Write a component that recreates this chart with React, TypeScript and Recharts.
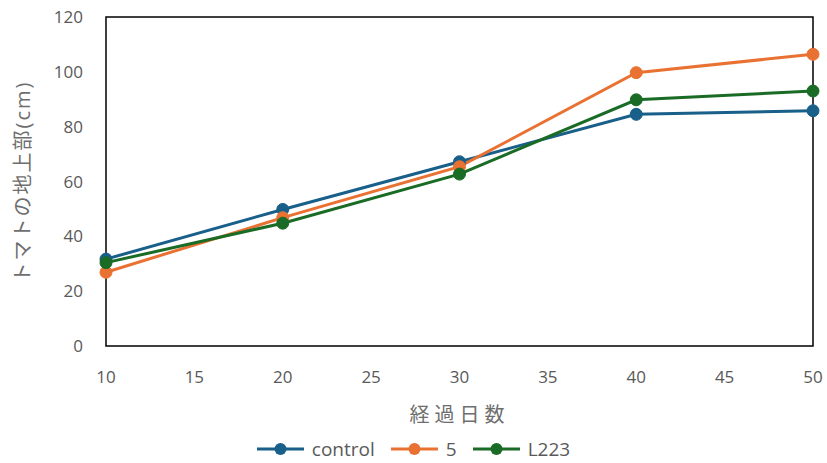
import {
  LineChart,
  Line,
  XAxis,
  YAxis,
  ReferenceArea,
  Legend,
} from 'recharts'

const days = [10, 20, 30, 40, 50]
const controlHeight = [31.7, 49.8, 67.2, 84.5, 85.8]
const treatment5Height = [26.9, 46.8, 65.4, 99.7, 106.4]
const l223Height = [30.4, 44.8, 62.7, 89.8, 93.0]

const xTicks = [10, 15, 20, 25, 30, 35, 40, 45, 50]
const yTicks = [0, 20, 40, 60, 80, 100, 120]

const seriesInfo = [
  { key: 'control', name: 'control', color: '#185F8A' },
  { key: 's5', name: '5', color: '#E97132' },
  { key: 'l223', name: 'L223', color: '#1A6B25' },
]

const data = days.map((d, i) => ({
  day: d,
  control: controlHeight[i],
  s5: treatment5Height[i],
  l223: l223Height[i],
}))

const FONT = "'Open Sans', 'Noto Sans CJK JP', sans-serif"
const GRAY = '#595959'
const LABEL_GRAY = '#6e6e6e'

function LegendContent() {
  return (
    <div
      style={{
        display: 'flex',
        justifyContent: 'center',
        height: 22,
        lineHeight: '22px',
        alignItems: 'center',
        gap: 16,
        fontFamily: FONT,
        fontSize: 19,
        color: GRAY,
      }}
    >
      {seriesInfo.map((s) => (
        <div key={s.key} style={{ display: 'flex', alignItems: 'center' }}>
          <svg width={47} height={14} style={{ marginRight: 8 }}>
            <line x1={0} y1={7} x2={47} y2={7} stroke={s.color} strokeWidth={3} />
            <circle cx={23.5} cy={7} r={6} fill={s.color} />
          </svg>
          <span>{s.name}</span>
        </div>
      ))}
    </div>
  )
}

export default function App() {
  return (
    <div style={{ position: 'absolute', left: 0, top: 0, width: 827, height: 463, background: '#fff' }}>
      <LineChart width={827} height={463} data={data} margin={{ top: 17, right: 14, left: 0, bottom: 0 }}>
        <XAxis
          dataKey="day"
          type="number"
          domain={[10, 50]}
          ticks={xTicks}
          tick={{ fontSize: 17, fill: GRAY, fontFamily: FONT }}
          tickLine={false}
          axisLine={false}
          tickSize={0}
          tickMargin={25}
          height={95}
          label={{
            value: '経過日数',
            position: 'insideTop',
            offset: 62,
            fontSize: 20,
            fill: LABEL_GRAY,
            fontFamily: FONT,
            style: { letterSpacing: 5 },
          }}
        />
        <YAxis
          type="number"
          domain={[0, 120]}
          ticks={yTicks}
          width={106}
          tick={{ fontSize: 17, fill: GRAY, fontFamily: FONT }}
          tickLine={false}
          axisLine={false}
          tickSize={0}
          tickMargin={23}
          label={{
            value: 'トマトの地上部(cm)',
            angle: -90,
            position: 'insideLeft',
            offset: 23,
            fontSize: 20,
            fill: LABEL_GRAY,
            fontFamily: FONT,
            style: { textAnchor: 'middle', letterSpacing: 2 },
          }}
        />
        <ReferenceArea x1={10} x2={50} y1={0} y2={120} fill="none" stroke="#000" strokeWidth={1.5} ifOverflow="visible" />
        <Legend content={<LegendContent />} wrapperStyle={{ top: 438, left: 0, width: 827, height: 22 }} />
        {seriesInfo.map((s) => (
          <Line
            key={s.key}
            dataKey={s.key}
            name={s.name}
            stroke={s.color}
            strokeWidth={3}
            dot={{ r: 6, fill: s.color, stroke: s.color, strokeWidth: 1 }}
            isAnimationActive={false}
          />
        ))}
      </LineChart>
    </div>
  )
}
